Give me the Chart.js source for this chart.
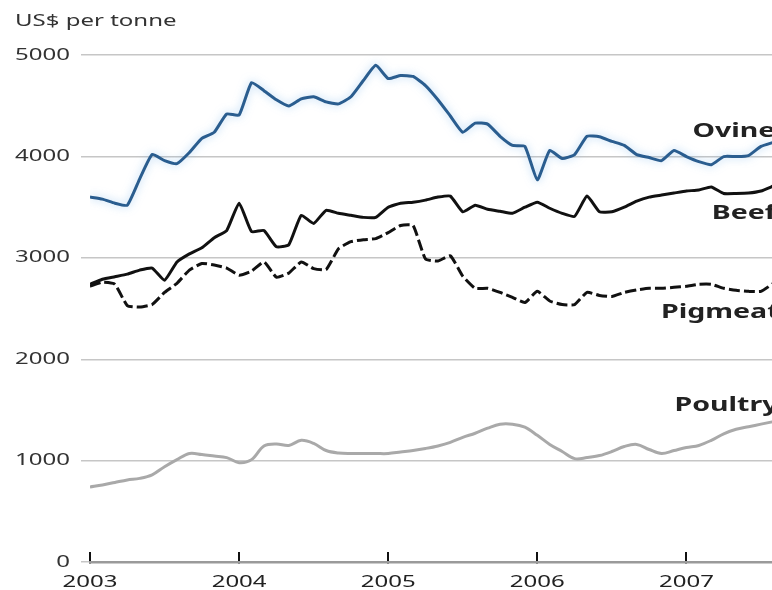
<!DOCTYPE html>
<html>
<head>
<meta charset="utf-8">
<script src="https://cdn.jsdelivr.net/npm/chart.js@4.4.1/dist/chart.umd.min.js"></script>
<style>
  html, body { margin: 0; padding: 0; background: #fff; overflow: hidden; }
  #c { position: absolute; left: 0; top: 0; }
</style>
</head>
<body>
<canvas id="c" width="799" height="605"></canvas>
<script>
// ---- data (monthly, Jan 2003 .. Aug 2007), US$ per tonne ----
const START_YEAR = 2003;
const YEAR_TICKS = [2003, 2004, 2005, 2006, 2007];
const Y_TICKS = [0, 1000, 2000, 3000, 4000, 5000];
const SERIES_NAMES = ['Ovine', 'Beef', 'Pigmeat', 'Poultry'];

const OVINE = [3600,3580,3540,3520,3780,4020,3960,3930,4040,4180,
               4240,4420,4410,4730,4650,4560,4500,4570,4590,4540,
               4520,4590,4750,4900,4770,4800,4790,4700,4560,4400,
               4240,4330,4320,4200,4110,4100,3770,4060,3980,4020,
               4200,4195,4150,4110,4020,3990,3960,4060,4000,3950,
               3920,4000,4000,4010,4100,4140];
const BEEF = [2740,2790,2815,2840,2880,2900,2780,2960,3040,3100,
              3200,3270,3540,3260,3270,3110,3130,3420,3340,3470,
              3440,3420,3400,3400,3500,3540,3550,3570,3600,3610,
              3455,3520,3480,3460,3440,3500,3550,3490,3440,3410,
              3610,3455,3455,3500,3560,3600,3620,3640,3660,3670,
              3700,3636,3636,3640,3660,3710];
const PIGMEAT = [2720,2760,2740,2530,2515,2540,2660,2750,2880,2945,
                 2930,2900,2830,2870,2960,2810,2850,2960,2895,2885,
                 3090,3160,3180,3190,3250,3320,3320,2990,2970,3020,
                 2820,2700,2700,2660,2610,2560,2670,2575,2540,2540,
                 2660,2630,2620,2660,2685,2700,2700,2710,2720,2740,
                 2740,2700,2680,2670,2670,2750];
const POULTRY = [740,760,785,810,825,860,940,1010,1070,1060,
                 1045,1030,980,1010,1145,1165,1150,1200,1170,1100,
                 1075,1070,1070,1070,1070,1085,1100,1120,1145,1180,
                 1230,1270,1320,1360,1360,1330,1250,1160,1090,1020,
                 1030,1050,1090,1140,1160,1110,1070,1100,1130,1150,
                 1200,1265,1310,1335,1360,1385];

const MONTHS = OVINE.map((_, i) => START_YEAR + i / 12);
const toPoints = arr => arr.map((v, i) => ({ x: MONTHS[i], y: v }));

// ---- horizontally widened text (the reference type is stretched) ----
const SX = 1.5;
const canvas = document.getElementById('c');
const ctx = canvas.getContext('2d');
const rawFill = ctx.fillText;
const rawMeasure = ctx.measureText;
ctx.fillText = function (text, x, y, maxWidth) {
  this.save();
  this.translate(x, y);
  this.scale(SX, 1);
  if (maxWidth === undefined || maxWidth === null) rawFill.call(this, text, 0, 0);
  else rawFill.call(this, text, 0, 0, maxWidth / SX);
  this.restore();
};
ctx.measureText = function (text) {
  const m = rawMeasure.call(this, text);
  return {
    width: m.width * SX,
    actualBoundingBoxAscent: m.actualBoundingBoxAscent,
    actualBoundingBoxDescent: m.actualBoundingBoxDescent,
    actualBoundingBoxLeft: m.actualBoundingBoxLeft * SX,
    actualBoundingBoxRight: m.actualBoundingBoxRight * SX,
    fontBoundingBoxAscent: m.fontBoundingBoxAscent,
    fontBoundingBoxDescent: m.fontBoundingBoxDescent
  };
};

const FONT = "'Noto Sans', 'DejaVu Sans', sans-serif";

const glowPlugin = {
  id: 'glow',
  beforeDatasetDraw(chart, args) {
    if (args.index === 0) {
      const c = chart.ctx;
      c.save();
      c.shadowColor = 'rgba(120,180,235,0.6)';
      c.shadowBlur = 8;
    }
  },
  afterDatasetDraw(chart, args) {
    if (args.index === 0) chart.ctx.restore();
  }
};

const seriesLabelPlugin = {
  id: 'seriesLabels',
  afterDatasetsDraw(chart, args, opts) {
    const c = chart.ctx;
    const xs = chart.scales.x, ys = chart.scales.y;
    c.save();
    c.font = opts.font;
    c.fillStyle = opts.color;
    c.textAlign = 'left';
    c.textBaseline = 'middle';
    opts.anchors.forEach(a => {
      c.fillText(a.text, xs.getPixelForValue(a.x), ys.getPixelForValue(a.y));
    });
    c.restore();
  }
};

new Chart(ctx, {
  type: 'line',
  data: {
    datasets: [
      { label: SERIES_NAMES[0], data: toPoints(OVINE), borderColor: '#2a5d8f', borderWidth: 3, tension: 0.15 },
      { label: SERIES_NAMES[1], data: toPoints(BEEF), borderColor: '#111111', borderWidth: 3, tension: 0.15 },
      { label: SERIES_NAMES[2], data: toPoints(PIGMEAT), borderColor: '#111111', borderWidth: 3, borderDash: [11, 4], tension: 0.15 },
      { label: SERIES_NAMES[3], data: toPoints(POULTRY), borderColor: '#a9a9a9', borderWidth: 3, tension: 0.35 }
    ]
  },
  options: {
    responsive: false,
    animation: false,
    devicePixelRatio: 1,
    elements: { point: { radius: 0 }, line: { borderCapStyle: 'butt', borderJoinStyle: 'round' } },
    layout: { padding: { left: 15, right: 0, top: 0, bottom: 0 } },
    plugins: {
      legend: { display: false },
      tooltip: { enabled: false },
      title: {
        display: true,
        text: 'US$ per tonne',
        align: 'start',
        color: '#333',
        font: { family: FONT, size: 16, weight: 'normal' },
        padding: { top: 12, bottom: 24 }
      },
      seriesLabels: {
        font: "bold 19px " + FONT,
        color: '#222',
        anchors: [
          { text: SERIES_NAMES[0], x: 2007.04, y: 4242 },
          { text: SERIES_NAMES[1], x: 2007.17, y: 3442 },
          { text: SERIES_NAMES[2], x: 2006.83, y: 2465 },
          { text: SERIES_NAMES[3], x: 2006.92, y: 1547 }
        ]
      }
    },
    scales: {
      x: {
        type: 'linear',
        min: START_YEAR,
        max: 2007.755,
        afterFit(s) { s.height = 43; },
        afterBuildTicks(s) { s.ticks = YEAR_TICKS.map(v => ({ value: v })); },
        ticks: {
          includeBounds: false,
          autoSkip: false,
          maxRotation: 0,
          padding: 21,
          color: '#222',
          font: { family: FONT, size: 16 },
          callback: v => String(v)
        },
        grid: {
          display: true,
          drawOnChartArea: false,
          drawTicks: true,
          tickLength: -10,
          color: '#111',
          lineWidth: 2
        },
        border: { display: true, color: '#9a9a9a', width: 2.5 }
      },
      y: {
        min: 0,
        max: 5000,
        afterFit(s) { s.width = 75; },
        afterBuildTicks(s) { s.ticks = Y_TICKS.map(v => ({ value: v })); },
        ticks: {
          padding: 11,
          color: '#333',
          font: { family: FONT, size: 16 },
          callback: v => String(v)
        },
        grid: {
          color: '#c6c6c6',
          lineWidth: 1.5,
          drawTicks: true,
          tickLength: 9
        },
        border: { display: false }
      }
    }
  },
  plugins: [glowPlugin, seriesLabelPlugin]
});
</script>
</body>
</html>
